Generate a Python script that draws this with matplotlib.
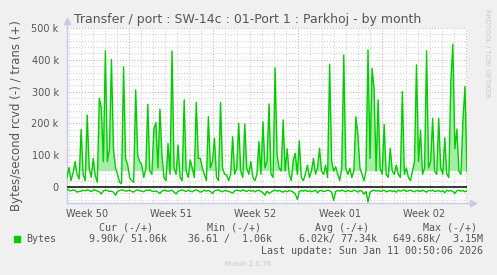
import numpy as np
import matplotlib.pyplot as plt
from matplotlib.patches import Rectangle

# trans (+) in k bytes/s, one value every 4 hours over the month
trans = [30, 61, 20, 45, 80, 40, 25, 181, 40, 20,
         226, 60, 30, 90, 35, 15, 279, 250, 80, 428,
         80, 120, 401, 120, 60, 40, 15, 10, 378, 90,
         70, 30, 20, 15, 305, 100, 80, 70, 30, 60,
         260, 50, 40, 182, 203, 60, 245, 100, 30, 20,
         137, 40, 428, 60, 40, 132, 30, 20, 274, 50,
         30, 85, 60, 30, 266, 90, 90, 60, 40, 20,
         221, 60, 80, 153, 30, 20, 266, 60, 40, 38,
         20, 40, 158, 40, 60, 200, 50, 30, 198, 60,
         40, 80, 30, 20, 40, 143, 40, 205, 60, 80,
         261, 40, 30, 375, 100, 60, 50, 211, 50, 120,
         40, 20, 85, 106, 40, 145, 30, 20, 40, 69,
         30, 50, 90, 40, 60, 122, 50, 40, 69, 30,
         386, 80, 50, 64, 40, 20, 60, 415, 60, 40,
         59, 30, 50, 221, 164, 60, 40, 20, 50, 431,
         90, 373, 310, 50, 274, 60, 40, 197, 40, 30,
         122, 50, 40, 69, 40, 30, 300, 40, 60, 30,
         20, 50, 80, 384, 80, 179, 40, 60, 428, 60,
         80, 216, 50, 40, 216, 60, 40, 155, 40, 30,
         333, 449, 120, 182, 50, 40, 211, 316, 48]

# rcvd (-) in k bytes/s
rcvd = [-8, -10, -12, -9, -11, -16, -14, -13, -10, -12,
        -9, -11, -14, -10, -9, -13, -15, -22, -12, -10,
        -11, -14, -13, -16, -26, -14, -11, -9, -10, -13,
        -12, -10, -14, -16, -11, -9, -12, -13, -15, -10,
        -11, -9, -13, -14, -12, -16, -20, -13, -10, -11,
        -14, -12, -10, -16, -22, -13, -11, -9, -12, -14,
        -10, -13, -15, -11, -9, -12, -16, -14, -10, -13,
        -11, -14, -20, -12, -10, -9, -13, -15, -11, -12,
        -14, -16, -19, -12, -10, -11, -13, -9, -12, -14,
        -10, -13, -11, -15, -12, -10, -14, -18, -26, -13,
        -20, -16, -12, -10, -13, -11, -14, -16, -12, -15,
        -11, -13, -16, -22, -39, -14, -11, -13, -10, -14,
        -12, -15, -13, -10, -18, -12, -11, -14, -13, -10,
        -12, -16, -42, -14, -11, -13, -10, -12, -15, -11,
        -13, -14, -10, -12, -16, -11, -13, -22, -14, -47,
        -16, -12, -10, -13, -11, -14, -12, -10, -15, -13,
        -11, -14, -12, -16, -10, -13, -11, -9, -14, -12,
        -10, -13, -15, -11, -12, -14, -10, -13, -16, -11,
        -12, -10, -14, -13, -11, -15, -12, -18, -10, -13,
        -11, -14, -20, -12, -10, -13, -11, -15, -12]

week_labels = ['Week 50', 'Week 51', 'Week 52', 'Week 01', 'Week 02']
y_ticks = [0, 100000, 200000, 300000, 400000, 500000]
y_tick_labels = ['0', '100 k', '200 k', '300 k', '400 k', '500 k']

legend_head = ['Cur (-/+)', 'Min (-/+)', 'Avg (-/+)', 'Max (-/+)']
legend_vals = ['9.90k/ 51.06k', '36.61 /  1.06k', '6.02k/ 77.34k', '649.68k/  3.15M']

# days counted from Monday of week 50
t_start, t_end = 1.85, 35.05
t = np.linspace(t_start, t_end, len(trans))
trans_b = np.array(trans) * 1000
rcvd_b = np.array(rcvd) * 1000

green = '#00CC00'
txt = '#555555'
axcol = '#C8C8E8'

fig = plt.figure(figsize=(4.97, 2.75), dpi=100, facecolor='#F0F0F0')
ax = fig.add_axes([67 / 497, 1 - 203 / 275, 400 / 497, 175 / 275])
ax.set_facecolor('white')
ax.set_xlim(t_start, t_end)
ax.set_ylim(-50300, 500000)

# grid
for d in range(2, 36):
    if d % 7 == 0:
        ax.axvline(d, color='#E8A0A0', lw=0.7, ls=(0, (1, 2)), zorder=1)
    else:
        ax.axvline(d, color='#CCCCCC', lw=0.7, ls=(0, (1, 2)), zorder=1)
for v in range(-40000, 500001, 20000):
    if v == 0:
        continue
    if v % 100000 == 0:
        ax.axhline(v, color='#E8A0A0', lw=0.7, ls=(0, (1, 2)), zorder=1)
    else:
        ax.axhline(v, color='#CCCCCC', lw=0.7, ls=(0, (1, 2)), zorder=1)

# data
ax.fill_between(t, 50000, trans_b, where=trans_b > 50000, interpolate=True,
                color='#A6ECA6', lw=0, zorder=2)
ax.plot(t, trans_b, color=green, lw=1, zorder=3)
ax.plot(t, rcvd_b, color=green, lw=1, zorder=3)
ax.axhline(0, color='black', lw=1.1, zorder=4)

# axes
for s in ['top', 'right']:
    ax.spines[s].set_visible(False)
for s in ['left', 'bottom']:
    ax.spines[s].set_color(axcol)
    ax.spines[s].set_linewidth(1)
ax.plot([0, 0], [1, 1.035], color=axcol, lw=1, transform=ax.transAxes, clip_on=False)
ax.plot(0, 1.04, marker='^', ms=4, color=axcol, transform=ax.transAxes, clip_on=False)
ax.plot([1, 1.012], [0, 0], color=axcol, lw=1, transform=ax.transAxes, clip_on=False)
ax.plot(1.014, 0, marker='>', ms=4, color=axcol, transform=ax.transAxes, clip_on=False)

ax.set_xticks([3.5, 10.5, 17.5, 24.5, 31.5])
ax.set_xticklabels(week_labels)
ax.set_yticks(y_ticks)
ax.set_yticklabels(y_tick_labels)
ax.tick_params(axis='both', length=0, labelsize=7, labelcolor=txt)
ax.tick_params(axis='y', pad=6)
ax.tick_params(axis='x', pad=4)

ax.set_ylabel('Bytes/second rcvd (-) / trans (+)', fontsize=8.5, color=txt, labelpad=6)
fig.text(248 / 497, 1 - 19 / 275, 'Transfer / port : SW-14c : 01-Port 1 : Parkhoj - by month',
         ha='center', va='center', fontsize=9, color=txt)
fig.text(487 / 497, 1 - 53 / 275, 'RRDTOOL / TOBI OETIKER', rotation=270,
         ha='center', va='center', fontsize=5, color='#C8C8C8')

# legend block
mono = 'DejaVu Sans Mono'
head_x = [99, 207, 315, 423]
val_x = [89, 188, 299, 393]
for x, s in zip(head_x, legend_head):
    fig.text(x / 497, 1 - 228 / 275, s, family=mono, fontsize=7.2, color=txt, va='center')
for x, s in zip(val_x, legend_vals):
    fig.text(x / 497, 1 - 239 / 275, s, family=mono, fontsize=7.2, color=txt, va='center')
fig.patches.append(Rectangle((14 / 497, 1 - 242 / 275), 6 / 497, 6 / 275,
                             transform=fig.transFigure, color=green))
fig.text(26 / 497, 1 - 239 / 275, 'Bytes', family=mono, fontsize=7.2, color=txt, va='center')
fig.text(483 / 497, 1 - 251 / 275, 'Last update: Sun Jan 11 00:50:06 2026', family=mono,
         fontsize=7.2, color=txt, va='center', ha='right')
fig.text(248 / 497, 1 - 264 / 275, 'Munin 2.0.76', fontsize=5, color='#C8C8C8',
         ha='center', va='center')

fig.savefig('out.png', dpi=100, facecolor=fig.get_facecolor())
